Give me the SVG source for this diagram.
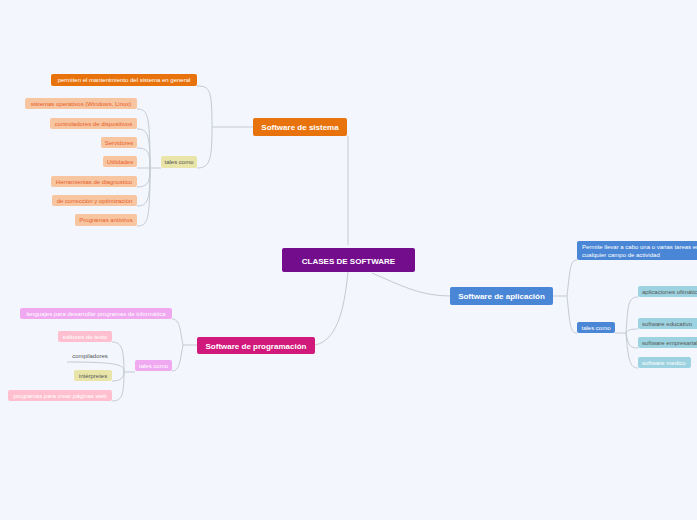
<svg xmlns="http://www.w3.org/2000/svg" width="697" height="520" viewBox="0 0 697 520">
<style>
text{font-family:"Liberation Sans",Arial,sans-serif;font-size:6px}
.c{fill:none;stroke:#c5c9d3;stroke-width:1}
.b{font-weight:bold;font-size:8px;fill:#fff}
.w{fill:#fff}
.o{fill:#e8602c}
.d{fill:#555}
</style>
<rect width="697" height="520" fill="#f3f6fd"/>
<g id="connectors">
<path class="c" d="M348 245 L348 136"/>
<path class="c" d="M348 272 C345 300 340 340 315 345"/>
<path class="c" d="M372 273 C400 285 420 296 450 296"/>
<path class="c" d="M253 127 L212 127"/>
<path class="c" d="M212 127 C212 90 210 86 197 86"/>
<path class="c" d="M212 127 C212 160 210 168 197 168"/>
<path class="c" d="M161 168 L150 168"/>
<path class="c" d="M150 168 C150 115 148 109 137 109 M150 168 C150 135 148 129 137 129 M150 168 C150 152 148 148 137 148 M150 168 L137 168 M150 168 C150 182 148 187 137 187 M150 168 C150 200 148 206 137 206 M150 168 C150 220 148 226 137 226"/>
<path class="c" d="M197 345 L183 345 C180 330 180 319 172 319 M183 345 C180 360 180 371 172 371"/>
<path class="c" d="M135 372 L124 372 C124 350 122 342 112 342 M124 372 C124 365 120 362 67 362 M124 372 C124 378 120 381 112 381 M124 372 C124 395 122 401 112 401"/>
<path class="c" d="M553 296 L567 296 C570 270 570 260 577 260 M567 296 C570 325 570 333 577 333"/>
<path class="c" d="M615 333 L626 333 C628 305 628 297 638 297 M626 333 C628 330 630 329 638 329 M626 333 C628 345 630 348 638 348 M626 333 C628 360 630 368 638 368"/>
</g>
<g id="central"><rect x="282" y="248" width="133" height="24" rx="2" fill="#730d8c"/><text x="348.5" y="264" text-anchor="middle" class="b" font-size="9">CLASES DE SOFTWARE</text></g>
<g id="sistema"><rect x="253" y="118" width="94" height="18" rx="2" fill="#e8730c"/><text x="300" y="130" text-anchor="middle" class="b">Software de sistema</text></g>
<g id="permiten"><rect x="51" y="74" width="146" height="12" rx="2" fill="#e8730c"/><text x="124" y="82" text-anchor="middle" class="w">permiten el mantenimiento del sistema en general</text></g>
<g id="tales1"><rect x="161" y="156" width="36" height="12" rx="2" fill="#e9e5a8"/><text x="179" y="164" text-anchor="middle" class="d">tales como</text></g>
<g id="s1"><rect x="25" y="98" width="112" height="11" rx="2" fill="#f7c59f"/><text x="81" y="105.5" text-anchor="middle" class="o">sistemas operativos (Windows, Linux)</text></g>
<g id="s2"><rect x="50" y="118" width="87" height="11" rx="2" fill="#f7c59f"/><text x="93.5" y="125.5" text-anchor="middle" class="o">controladores de dispositivos</text></g>
<g id="s3"><rect x="101" y="137" width="36" height="11" rx="2" fill="#f7c59f"/><text x="119" y="144.5" text-anchor="middle" class="o">Servidores</text></g>
<g id="s4"><rect x="103" y="156" width="34" height="11" rx="2" fill="#f7c59f"/><text x="120" y="163.5" text-anchor="middle" class="o">Utilidades</text></g>
<g id="s5"><rect x="51" y="176" width="86" height="11" rx="2" fill="#f7c59f"/><text x="94" y="183.5" text-anchor="middle" class="o">Herramientas de diagnostico</text></g>
<g id="s6"><rect x="52" y="195" width="85" height="11" rx="2" fill="#f7c59f"/><text x="94.5" y="202.5" text-anchor="middle" class="o">de corrección y optimización</text></g>
<g id="s7"><rect x="75" y="214" width="62" height="12" rx="2" fill="#f7c59f"/><text x="106" y="222" text-anchor="middle" class="o">Programas antivirus</text></g>
<g id="prog"><rect x="197" y="337" width="118" height="17" rx="2" fill="#d0197a"/><text x="256" y="348.5" text-anchor="middle" class="b">Software de programación</text></g>
<g id="lenguajes"><rect x="20" y="308" width="152" height="11" rx="2" fill="#f0a8f0"/><text x="96" y="315.5" text-anchor="middle" class="w">lenguajes para desarrollar programas de informática</text></g>
<g id="tales2"><rect x="135" y="360" width="37" height="11" rx="2" fill="#f0a8f0"/><text x="153.5" y="367.5" text-anchor="middle" class="w">tales como</text></g>
<g id="p1"><rect x="58" y="331" width="54" height="11" rx="2" fill="#ffbfcf"/><text x="85" y="338.5" text-anchor="middle" class="w">editores de texto</text></g>
<g id="p2"><text x="90" y="358" text-anchor="middle" class="d">compiladores</text></g>
<g id="p3"><rect x="74" y="370" width="38" height="11" rx="2" fill="#e9e5a8"/><text x="93" y="377.5" text-anchor="middle" class="d">intérpretes</text></g>
<g id="p4"><rect x="8" y="390" width="104" height="11" rx="2" fill="#ffbfcf"/><text x="60" y="397.5" text-anchor="middle" class="w">programas para crear páginas web</text></g>
<g id="app"><rect x="450" y="287" width="103" height="18" rx="2" fill="#4a86d6"/><text x="501.5" y="299" text-anchor="middle" class="b">Software de aplicación</text></g>
<g id="permite"><rect x="577" y="241" width="125" height="19" rx="2" fill="#4a86d6"/><text x="582" y="249" class="w">Permite llevar a cabo una o varias tareas en</text><text x="582" y="257" class="w">cualquier campo de actividad</text></g>
<g id="tales3"><rect x="577" y="322" width="38" height="11" rx="2" fill="#4a86d6"/><text x="596" y="329.5" text-anchor="middle" class="w">tales como</text></g>
<g id="a1"><rect x="638" y="286" width="64" height="11" rx="2" fill="#9dd3e0"/><text x="642" y="293.5" class="d">aplicaciones ofimáticas</text></g>
<g id="a2"><rect x="638" y="318" width="64" height="11" rx="2" fill="#9dd3e0"/><text x="642" y="325.5" class="d">software educativo</text></g>
<g id="a3"><rect x="638" y="337" width="64" height="11" rx="2" fill="#9dd3e0"/><text x="642" y="344.5" class="d">software empresarial</text></g>
<g id="a4"><rect x="638" y="357" width="53" height="11" rx="2" fill="#9dd3e0"/><text x="642" y="364.5" class="w">software medico</text></g>
</svg>
